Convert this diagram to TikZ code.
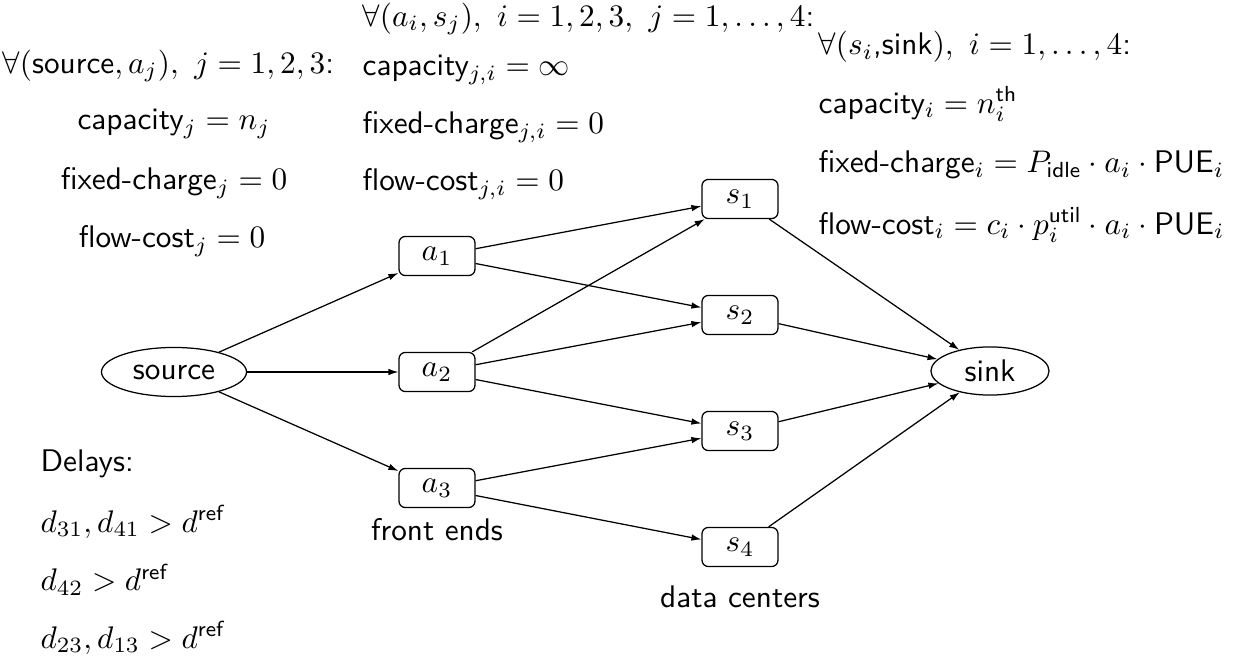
\documentclass[tikz,border=0pt]{standalone}
\usetikzlibrary{arrows.meta,shapes.geometric}
\begin{document}
\begin{tikzpicture}[x=0.32pt,y=-0.32pt,font=\sffamily,
  ell/.style={draw,ellipse,inner sep=0pt,line width=0.4pt},
  box/.style={draw,rectangle,rounded corners=2pt,minimum width=24.3pt,minimum height=12.5pt,inner sep=0pt,line width=0.4pt},
  arr/.style={-{Latex[length=3.2pt,width=2.1pt]},line width=0.4pt},
  lbl/.style={inner sep=0pt,anchor=west},
  clbl/.style={inner sep=0pt}]
\useasboundingbox (0,0) rectangle (1238,672);
% graph nodes
\node[ell,minimum width=46.4pt,minimum height=15.7pt] (src) at (174,372) {source};
\node[box] (a1) at (437,256) {$a_1$};
\node[box] (a2) at (437,372) {$a_2$};
\node[box] (a3) at (437,488) {$a_3$};
\node[box] (s1) at (740,199) {$s_1$};
\node[box] (s2) at (740,315) {$s_2$};
\node[box] (s3) at (740,431) {$s_3$};
\node[box] (s4) at (740,547) {$s_4$};
\node[ell,minimum width=37.8pt,minimum height=15.4pt] (sink) at (990,371) {sink};
% connectors
\draw[arr] (src) -- (a1);
\draw[arr] (src) -- (a2);
\draw[arr] (src) -- (a3);
\draw[arr] (a1) -- (s1);
\draw[arr] (a1) -- (s2);
\draw[arr] (a2) -- (s1);
\draw[arr] (a2) -- (s2);
\draw[arr] (a2) -- (s3);
\draw[arr] (a3) -- (s3);
\draw[arr] (a3) -- (s4);
\draw[arr] (s1) -- (sink);
\draw[arr] (s2) -- (sink);
\draw[arr] (s3) -- (sink);
\draw[arr] (s4) -- (sink);
% captions
\node[clbl] (fe) at (437,530) {front ends};
\node[clbl] (dc) at (740,597) {data centers};
% left block
\node[lbl] (l0) at (2,66) {$\forall($source$, a_j),\ j=1,2,3$:};
\node[clbl] (l1) at (174,124) {capacity$_j = n_j$};
\node[clbl] (l2) at (174,183) {fixed-charge$_j = 0$};
\node[clbl] (l3) at (172,241) {flow-cost$_j = 0$};
% middle block
\node[lbl] (m0) at (362,19) {$\forall(a_i, s_j),\ i=1,2,3,\ j=1,\ldots,4$:};
\node[lbl] (m1) at (362,70) {capacity$_{j,i} = \infty$};
\node[lbl] (m2) at (362,127) {fixed-charge$_{j,i} = 0$};
\node[lbl] (m3) at (362,184) {flow-cost$_{j,i} = 0$};
% right block
\node[lbl] (r0) at (818,47) {$\forall(s_i$,sink$),\ i=1,\ldots,4$:};
\node[lbl] (r1) at (818,104) {capacity$_i = n_i^{\mathsf{th}}$};
\node[lbl] (r2) at (818,165) {fixed-charge$_i = P_{\mathsf{idle}}\cdot a_i\cdot{}$PUE$_i$};
\node[lbl] (r3) at (818,225) {flow-cost$_i = c_i\cdot p_i^{\mathsf{util}}\cdot a_i\cdot{}$PUE$_i$};
% delays
\node[lbl] (d0) at (40,464) {Delays:};
\node[lbl] (d1) at (40,522) {$d_{31}, d_{41} > d^{\mathsf{ref}}$};
\node[lbl] (d2) at (40,580) {$d_{42} > d^{\mathsf{ref}}$};
\node[lbl] (d3) at (40,638) {$d_{23}, d_{13} > d^{\mathsf{ref}}$};
\end{tikzpicture}
\end{document}
